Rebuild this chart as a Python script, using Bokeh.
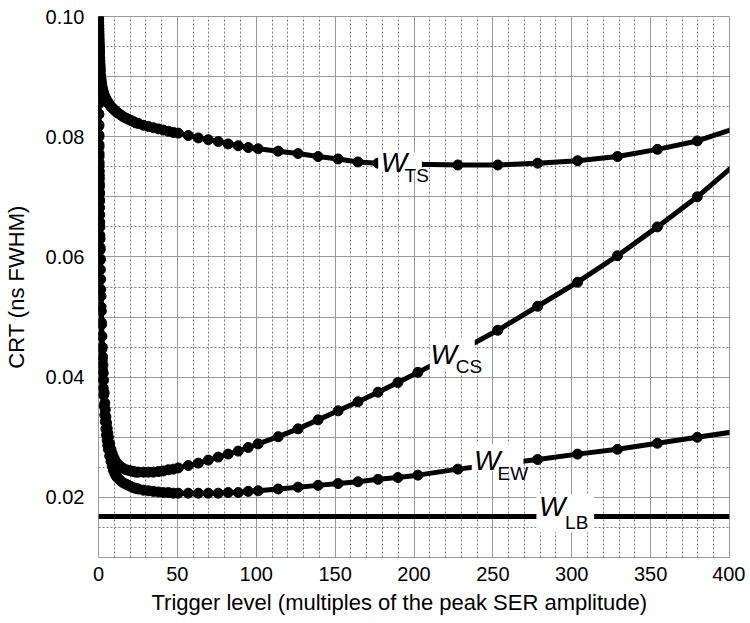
from bokeh.plotting import figure
from bokeh.models import Grid, FixedTicker, Label, Range1d, PrintfTickFormatter, BoxAnnotation, Title
from bokeh.embed import file_html
from bokeh.resources import INLINE

# ---- data ----
x_pts = [0.05, 0.10, 0.15, 0.20, 0.25, 0.30, 0.35, 0.40, 0.45, 0.50, 0.55, 0.60, 0.65, 0.70,
         0.8, 0.9, 1.0, 1.1, 1.2,
         1.4, 1.6, 1.8, 2.0, 2.2, 2.4, 2.6, 2.8, 3.0, 3.2,
         3.6, 4.0, 4.3, 4.7, 5.1, 5.5, 5.9, 6.3,
         7.1, 7.9, 8.7, 9.5, 10.3, 11.1, 11.9, 12.7,
         14.2, 15.8, 17.4, 19.0, 20.6, 22.2, 23.7, 25.3,
         28.5, 31.6, 34.8, 38.0, 41.1, 44.3, 47.5, 50.6,
         56.9, 63.3, 69.6, 75.9, 82.2, 88.6, 94.9, 101.2,
         113.9, 126.5, 139.2, 151.9, 164.5, 177.2, 189.8, 202.5,
         227.8, 253.1, 278.4, 303.7, 329.0, 354.3, 379.6, 404.9]

w_ts = [0.1000, 0.0995, 0.0990, 0.0985, 0.0980, 0.0975, 0.0970, 0.0965, 0.0960, 0.0955,
        0.0951, 0.0947, 0.0943, 0.0939,
        0.0932, 0.0926, 0.0920, 0.0915, 0.0910,
        0.0902, 0.0896, 0.0891, 0.0887, 0.0884, 0.0881, 0.0878, 0.0876, 0.0874, 0.0872,
        0.0869, 0.0867, 0.0865, 0.0863, 0.0861, 0.0859, 0.0857, 0.0856,
        0.0853, 0.0850, 0.0848, 0.0846, 0.0844, 0.0842, 0.0840, 0.0839,
        0.0836, 0.0833, 0.0831, 0.0829, 0.0827, 0.0825, 0.0823, 0.0822,
        0.0819, 0.0817, 0.0815, 0.0813, 0.0811, 0.0809, 0.0807, 0.0806,
        0.0802, 0.0798, 0.0795, 0.0792, 0.0788, 0.0785, 0.0782, 0.0780,
        0.0776, 0.0772, 0.0767, 0.0763, 0.0758, 0.0756, 0.0755, 0.0754,
        0.0753, 0.0753, 0.0756, 0.0760, 0.0767, 0.0779, 0.0793, 0.0815]

w_cs = [0.0895, 0.0875, 0.0855, 0.0838, 0.0820, 0.0803, 0.0787, 0.0772, 0.0757, 0.0743,
        0.0730, 0.0717, 0.0705, 0.0693,
        0.0670, 0.0650, 0.0630, 0.0612, 0.0595,
        0.0563, 0.0535, 0.0510, 0.0488, 0.0468, 0.0450, 0.0434, 0.0420, 0.0407, 0.0395,
        0.0374, 0.0357, 0.0346, 0.0334, 0.0324, 0.0315, 0.0307, 0.0300,
        0.0289, 0.0280, 0.0273, 0.0267, 0.0263, 0.0259, 0.0256, 0.0254,
        0.0251, 0.0248, 0.0246, 0.0245, 0.0244, 0.0243, 0.0242, 0.0242,
        0.0242, 0.0242, 0.0242, 0.0243, 0.0244, 0.0246, 0.0247, 0.0249,
        0.0253, 0.0257, 0.0262, 0.0267, 0.0272, 0.0277, 0.0283, 0.0289,
        0.0301, 0.0314, 0.0329, 0.0344, 0.0359, 0.0375, 0.0391, 0.0408,
        0.0442, 0.0478, 0.0518, 0.0558, 0.0602, 0.0650, 0.0700, 0.0757]

w_ew = [0.0895, 0.0875, 0.0855, 0.0837, 0.0818, 0.0800, 0.0783, 0.0767, 0.0751, 0.0736,
        0.0722, 0.0708, 0.0695, 0.0682,
        0.0658, 0.0636, 0.0616, 0.0597, 0.0579,
        0.0546, 0.0517, 0.0491, 0.0468, 0.0447, 0.0428, 0.0411, 0.0396, 0.0382, 0.0370,
        0.0352, 0.0337, 0.0326, 0.0314, 0.0304, 0.0295, 0.0287, 0.0280,
        0.0269, 0.0260, 0.0252, 0.0245, 0.0240, 0.0236, 0.0233, 0.0231,
        0.0227, 0.0224, 0.0222, 0.0220, 0.0218, 0.0216, 0.0215, 0.0214,
        0.0212, 0.0211, 0.0210, 0.0209, 0.0208, 0.0208, 0.0207, 0.0207,
        0.0207, 0.0207, 0.0207, 0.0207, 0.0208, 0.0208, 0.0210, 0.0211,
        0.0214, 0.0217, 0.0220, 0.0223, 0.0226, 0.0230, 0.0233, 0.0237,
        0.0247, 0.0255, 0.0263, 0.0272, 0.0280, 0.0290, 0.0300, 0.0310]

lb_x = [0, 400]
lb_y = [0.0168, 0.0168]

x_ticks = [0, 50, 100, 150, 200, 250, 300, 350, 400]
y_ticks = [0.02, 0.04, 0.06, 0.08, 0.10]

FONT = "Liberation Sans"

p = figure(width=745, height=620, output_backend="svg", toolbar_location=None,
           x_range=Range1d(0, 400), y_range=Range1d(0.01, 0.10),
           min_border_left=95, min_border_right=16, min_border_top=16, min_border_bottom=0)

p.background_fill_color = "white"
p.border_fill_color = "white"
p.outline_line_color = "#9a9a9a"
p.outline_line_width = 1

p.grid.visible = False

# minor dotted grids
p.add_layout(Grid(dimension=0, ticker=FixedTicker(ticks=[v for v in range(10, 400, 10) if v % 50]),
                  grid_line_color="#7a7a7a", grid_line_dash="2 2", grid_line_width=1))
p.add_layout(Grid(dimension=1, ticker=FixedTicker(ticks=[0.015 + 0.01 * i for i in range(9)]),
                  grid_line_color="#7a7a7a", grid_line_dash="2 2", grid_line_width=1))
# major solid grids
p.add_layout(Grid(dimension=0, ticker=FixedTicker(ticks=x_ticks),
                  grid_line_color="#9a9a9a", grid_line_width=1))
p.add_layout(Grid(dimension=1, ticker=FixedTicker(ticks=[0.01 * i for i in range(1, 11)]),
                  grid_line_color="#9a9a9a", grid_line_width=1))

for xs, ys in [(x_pts, w_ts), (x_pts, w_cs), (x_pts, w_ew)]:
    p.line(xs, ys, line_color="black", line_width=5)
    p.scatter(xs, ys, size=10, fill_color="black", line_color="black")
p.line(lb_x, lb_y, line_color="black", line_width=5)

# axes
p.xaxis.ticker = FixedTicker(ticks=x_ticks)
p.yaxis.ticker = FixedTicker(ticks=y_ticks)
p.yaxis.formatter = PrintfTickFormatter(format="%.2f")
for ax in (p.xaxis, p.yaxis):
    ax.axis_line_color = None
    ax.major_tick_line_color = None
    ax.minor_tick_line_color = None
    ax.major_tick_out = 0
    ax.major_tick_in = 0
    ax.major_label_text_font = FONT
    ax.major_label_text_font_size = "20px"
    ax.major_label_text_color = "black"
    ax.axis_label_text_font = FONT
    ax.axis_label_text_font_size = "22px"
    ax.axis_label_text_font_style = "normal"
    ax.axis_label_text_color = "black"
p.yaxis.axis_label = "CRT (ns FWHM)"
p.xaxis.major_label_standoff = 9
p.yaxis.major_label_standoff = 14
p.yaxis.axis_label_standoff = 14

# x axis title placed below, left-aligned with offset so it sits as in the reference
xtitle = Title(text="Trigger level (multiples of the peak SER amplitude)", align="left",
               offset=53, text_font=FONT, text_font_size="22px", text_font_style="normal",
               text_color="black", standoff=8)
p.add_layout(xtitle, "below")
p.min_border_bottom = 63

# curve labels: (subscript, W x, W y, sub x, sub y, white knock-out box l, r, b, t)
labels = [("TS", 179.0, 0.0757, 194.0, 0.0735, 177.3, 205.0, 0.0742, 0.0774),
          ("CS", 210.5, 0.0437, 226.5, 0.0417, 210.0, 238.5, 0.04133, 0.04667),
          ("EW", 238.0, 0.0262, 253.0, 0.0240, 236.6, 269.4, 0.02433, 0.02883),
          ("LB", 279.2, 0.01853, 295.8, 0.01587, 277.6, 314.2, 0.0142, 0.0205)]
for sub, wx, wy, sx, sy, bl, br, bb, bt in labels:
    p.add_layout(BoxAnnotation(left=bl, right=br, bottom=bb, top=bt,
                               fill_color="white", fill_alpha=1.0,
                               line_color=None, level="overlay"))
    p.add_layout(Label(x=wx, y=wy, text="W", text_font=FONT, text_font_size="28px",
                       text_font_style="italic", text_color="black",
                       text_baseline="alphabetic", level="overlay"))
    p.add_layout(Label(x=sx, y=sy, text=sub, text_font=FONT, text_font_size="19px",
                       text_color="black", text_baseline="alphabetic", level="overlay"))

open("out.html", "w").write(file_html(p, INLINE))
